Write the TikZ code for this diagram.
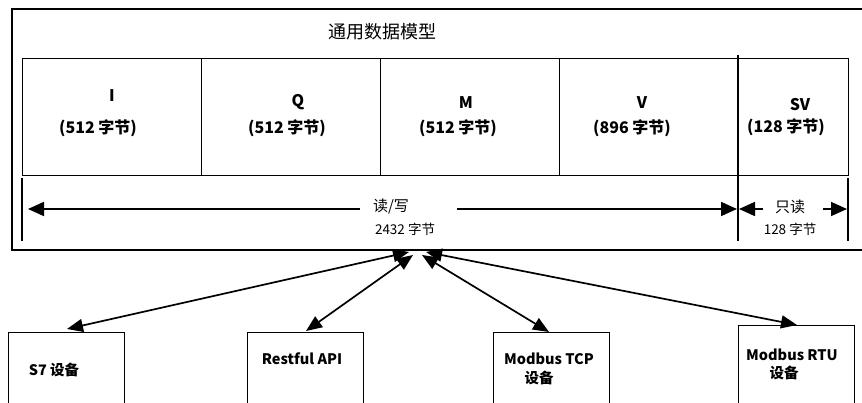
\documentclass[tikz,border=0pt]{standalone}
\usepackage{fontspec}
\setmainfont{Noto Sans CJK SC}
\usetikzlibrary{arrows.meta}
\begin{document}
\begin{tikzpicture}[x=1pt,y=-1pt,
  frameline/.style={line width=1.2pt},
  cell/.style={draw, line width=1.2pt, inner sep=0pt, anchor=north west, minimum height=117pt},
  devbox/.style={draw, line width=1.2pt, inner sep=0pt, anchor=north west, minimum width=116pt, minimum height=90pt},
  lbl/.style={font=\fontsize{16}{18}\selectfont\bfseries, inner sep=0pt},
  small/.style={font=\fontsize{13.5}{16}\selectfont, inner sep=0pt},
  devlbl/.style={font=\fontsize{14.5}{18}\selectfont\bfseries, inner sep=0pt, align=center},
  conn/.style={line width=1.7pt, {Triangle[length=16pt,width=13pt]}-{Triangle[length=16pt,width=13pt]}},
  oneway/.style={line width=1.7pt, -{Triangle[length=16pt,width=14pt]}},
  spanline/.style={line width=1.4pt}
]
\useasboundingbox (0,0) rectangle (862,403);
% outer frame (open on the right)
\draw[frameline] (870,9) -- (12,9) -- (12,250) -- (870,250);
\node[font=\fontsize{18}{20}\selectfont, inner sep=0pt] (title) at (382,32) {通用数据模型};

% cells
\node[cell, minimum width=179pt] (cI) at (22,58) {};
\node[cell, minimum width=179pt] (cQ) at (201,58) {};
\node[cell, minimum width=179pt] (cM) at (380,58) {};
\node[cell, minimum width=179pt] (cV) at (559,58) {};
\node[cell, minimum width=110pt] (cSV) at (738,58) {};

\node[lbl] (tI) at (112,96) {I};
\node[lbl] (pI) at (98,128) {(512 字节)};
\node[lbl] (tQ) at (298,102) {Q};
\node[lbl] (pQ) at (287,128) {(512 字节)};
\node[lbl] (tM) at (466,103) {M};
\node[lbl] (pM) at (458,128) {(512 字节)};
\node[lbl] (tV) at (642,103) {V};
\node[lbl] (pV) at (632,128) {(896 字节)};
\node[lbl] (tSV) at (800,105) {SV};
\node[lbl] (pSV) at (786,127) {(128 字节)};

% span markers
\coordinate (m1a) at (22,178); \coordinate (m1b) at (22,241);
\coordinate (m2a) at (738,55); \coordinate (m2b) at (738,241);
\coordinate (m3a) at (848,178); \coordinate (m3b) at (848,241);
\draw[spanline] (m1a) -- (m1b);
\draw[spanline] (m2a) -- (m2b);
\draw[spanline] (m3a) -- (m3b);

\node[small, font=\fontsize{15}{17}\selectfont] (rw) at (391,207) {读/写};
\node[small] (rwn) at (405,229) {2432 字节};
\node[small, font=\fontsize{15}{17}\selectfont] (ro) at (790,207) {只读};
\node[small] (ron) at (790,229) {128 字节};

\coordinate (rwL) at (360,209); \coordinate (rwLt) at (28,209);
\coordinate (rwR) at (457,209); \coordinate (rwRt) at (737,209);
\coordinate (roL) at (763,209); \coordinate (roLt) at (739,209);
\coordinate (roR) at (823,209); \coordinate (roRt) at (847,209);
\draw[oneway] (rwL) -- (rwLt);
\draw[oneway] (rwR) -- (rwRt);
\draw[oneway] (roL) -- (roLt);
\draw[oneway] (roR) -- (roRt);

% devices
\node[devbox] (s7) at (8,332) {};
\node[devbox] (rest) at (247,332) {};
\node[devbox] (tcp) at (493,332) {};
\node[devbox] (rtu) at (738,325) {};

\node[devlbl] (ls7) at (54,370) {S7 设备};
\node[devlbl] (lrest) at (302,359) {Restful API};
\node[devlbl] (ltcp) at (549,359) {Modbus TCP};
\node[devlbl] (ltcp2) at (539,378) {设备};
\node[devlbl] (lrtu) at (792,355) {Modbus RTU};
\node[devlbl] (lrtu2) at (784,373) {设备};

% connectors
\coordinate (h1) at (409,252);
\coordinate (h2) at (413,255);
\coordinate (h3) at (422,255);
\coordinate (h4) at (426,252);
\coordinate (e1) at (67,329);
\coordinate (e2) at (306,331);
\coordinate (e3) at (549,332);
\coordinate (e4) at (797,325);
\draw[conn] (h1) -- (e1);
\draw[conn] (h2) -- (e2);
\draw[conn] (h3) -- (e3);
\draw[conn] (h4) -- (e4);
\end{tikzpicture}
\end{document}
